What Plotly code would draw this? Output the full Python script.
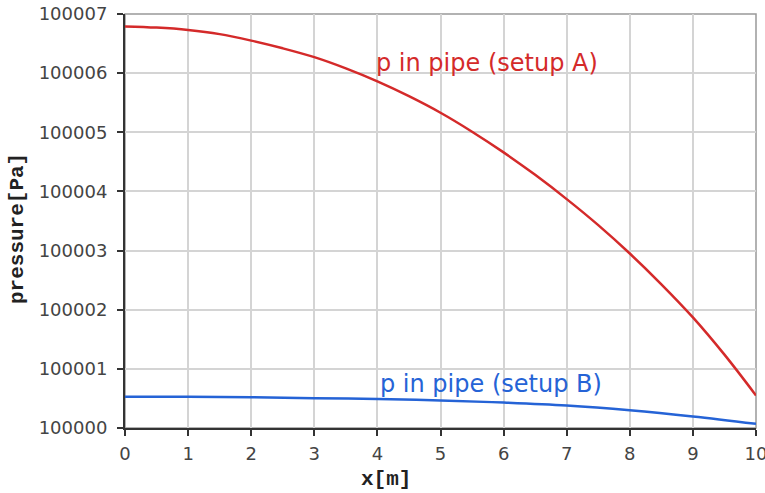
import plotly.graph_objects as go

x_a = [0, 0.5, 1, 1.5, 2, 2.5, 3, 3.5, 4, 4.5, 5, 5.5, 6, 6.5, 7, 7.5, 8, 8.5, 9, 9.5, 10]
p_a = [100006.79, 100006.77, 100006.73, 100006.66, 100006.55, 100006.42, 100006.27,
       100006.08, 100005.86, 100005.61, 100005.33, 100005.01, 100004.66, 100004.28,
       100003.87, 100003.43, 100002.95, 100002.43, 100001.87, 100001.24, 100000.55]

x_b = [0, 1, 2, 3, 4, 5, 6, 7, 8, 9, 10]
p_b = [100000.53, 100000.527, 100000.52, 100000.505, 100000.49, 100000.465,
       100000.43, 100000.38, 100000.30, 100000.195, 100000.07]

label_a = "p in pipe (setup A)"
label_b = "p in pipe (setup B)"
x_title = "x[m]"
y_title = "pressure[Pa]"

RED = "#d42a2a"
BLUE = "#2563d6"

W, H = 765, 493
L, R, T, B = 125, 9, 14, 65
pw = W - L - R
ph = H - T - B

fig = go.Figure()
fig.add_trace(go.Scatter(x=x_a, y=p_a, mode="lines", line=dict(color=RED, width=2.5, shape="spline"),
                         showlegend=False, hoverinfo="skip"))
fig.add_trace(go.Scatter(x=x_b, y=p_b, mode="lines", line=dict(color=BLUE, width=2.5, shape="spline"),
                         showlegend=False, hoverinfo="skip"))

tickfont = dict(family="DejaVu Sans", size=18, color="#444444")
fig.update_xaxes(range=[0, 10], dtick=1, showgrid=True, gridcolor="#d4d4d4", gridwidth=1.5,
                 showline=True, linecolor="#333333", linewidth=2, ticks="outside", ticklen=6,
                 tickcolor="#333333", tickwidth=2, tickfont=tickfont, zeroline=False,
                 automargin=False, ticklabeloverflow="allow", ticklabelstandoff=2)
fig.update_yaxes(range=[100000, 100007], dtick=1, tickformat="d", showgrid=True,
                 gridcolor="#d4d4d4", gridwidth=1.5, showline=True, linecolor="#333333",
                 linewidth=2, ticks="outside", ticklen=6, tickcolor="#333333", tickwidth=2,
                 tickfont=tickfont, zeroline=False, automargin=False, ticklabeloverflow="allow",
                 ticklabelstandoff=6)

fig.add_shape(type="rect", xref="paper", yref="paper", x0=0, y0=0, x1=1, y1=1,
              line=dict(color="#999999", width=1.5), layer="below")

fig.add_annotation(x=4, y=100006.17, xref="x", yref="y", text=label_a, showarrow=False,
                   xanchor="left", xshift=-3, font=dict(family="DejaVu Sans", size=24, color=RED))
fig.add_annotation(x=4, y=100000.75, xref="x", yref="y", text=label_b, showarrow=False,
                   xanchor="left", xshift=1, font=dict(family="DejaVu Sans", size=24, color=BLUE))

titlefont = dict(family="Liberation Mono", size=21, color="#222222")
fig.add_annotation(x=(386 - L) / pw, y=-(479 - 428) / ph, xref="paper", yref="paper",
                   xanchor="center", yanchor="middle",
                   text="<b>" + x_title + "</b>", showarrow=False, font=titlefont)
fig.add_annotation(x=-(L - 17) / pw, y=(428 - 229) / ph, xref="paper", yref="paper",
                   xanchor="center", yanchor="middle",
                   text="<b>" + y_title + "</b>", showarrow=False, textangle=-90, font=titlefont)

fig.update_layout(
    width=W, height=H,
    margin=dict(l=L, r=R, t=T, b=B),
    plot_bgcolor="white", paper_bgcolor="white",
)

fig.write_html("out.html")
